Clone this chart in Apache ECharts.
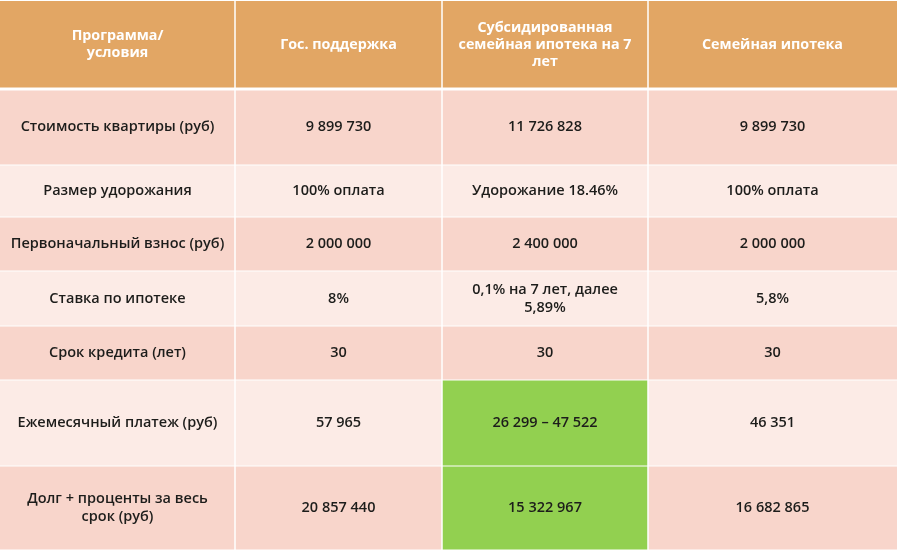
<!DOCTYPE html>
<html>
<head>
<meta charset="utf-8">
<script src="https://cdn.jsdelivr.net/npm/echarts@6/dist/echarts.min.js"></script>
<style>
    html, body { margin: 0; padding: 0; background: #fff; }
    #main { width: 897px; height: 550px; }
</style>
</head>
<body>
<div id="main"></div>
<script>
// заголовки колонок
var columns = ['Программа/\nусловия', 'Гос. поддержка', 'Субсидированная\nсемейная ипотека на 7\nлет', 'Семейная ипотека'];

// условия (первая колонка)
var conditions = ['Стоимость квартиры (руб)', 'Размер удорожания', 'Первоначальный взнос (руб)',
    'Ставка по ипотеке', 'Срок кредита (лет)', 'Ежемесячный платеж (руб)', 'Долг + проценты за весь\nсрок (руб)'];

var gosValues = ['9 899 730', '100% оплата', '2 000 000', '8%', '30', '57 965', '20 857 440'];
var subsidValues = ['11 726 828', 'Удорожание 18.46%', '2 400 000', '0,1% на 7 лет, далее\n5,89%', '30', '26 299 – 47 522', '15 322 967'];
var familyValues = ['9 899 730', '100% оплата', '2 000 000', '5,8%', '30', '46 351', '16 682 865'];

// лучшие значения (подсвечены зелёным) в колонке субсидированной ипотеки
var subsidBest = [false, false, false, false, false, true, true];

// разметка таблицы
var colEdges = [0, 235, 442, 648, 897];
var rowEdges = [0, 89, 165, 217, 271, 326, 380, 466, 550];

var colors = {
    header: '#E2A664',
    dark: '#F8D5CB',
    light: '#FCEBE6',
    best: '#92D050',
    text: '#1d1d1b'
};

var cells = [];
columns.forEach(function (name, c) {
    cells.push([c, 0, name, 'header']);
});
conditions.forEach(function (name, i) {
    var r = i + 1;
    var kind = (i % 2 === 0) ? 'dark' : 'light';
    cells.push([0, r, name, kind]);
    cells.push([1, r, gosValues[i], kind]);
    cells.push([2, r, subsidValues[i], subsidBest[i] ? 'best' : kind]);
    cells.push([3, r, familyValues[i], kind]);
});

var myChart = echarts.init(document.getElementById('main'));

function renderCell(params, api) {
    var c = api.value(0);
    var r = api.value(1);
    var item = cells[params.dataIndex];
    var p0 = api.coord([colEdges[c], rowEdges[r]]);
    var p1 = api.coord([colEdges[c + 1], rowEdges[r + 1]]);
    var isHeader = item[3] === 'header';
    var gapTop = r === 1 ? 1.5 : 0.5;
    var gapBottom = isHeader ? 1.5 : 0.5;
    var x = p0[0] + (c === 0 ? 0 : 0.75);
    var w = p1[0] - p0[0] - (c === 0 ? 0.75 : (c === 3 ? 0.75 : 1.5));
    var y = p0[1] + (r === 0 ? 1 : gapTop);
    var h = p1[1] - y - gapBottom;
    return {
        type: 'group',
        children: [{
            type: 'rect',
            shape: { x: x, y: y, width: w, height: h },
            style: { fill: colors[item[3]] }
        }, {
            type: 'text',
            x: (p0[0] + p1[0]) / 2,
            y: (p0[1] + p1[1]) / 2,
            style: {
                text: item[2],
                fill: isHeader ? '#ffffff' : colors.text,
                font: isHeader ? 'bold 14.3px "Open Sans", sans-serif' : '600 14.5px "Open Sans", sans-serif',
                lineHeight: isHeader ? 17 : 18,
                align: 'center',
                verticalAlign: 'middle'
            }
        }]
    };
}

var option = {
    animation: false,
    grid: { left: 0, right: 0, top: 0, bottom: 0 },
    xAxis: { type: 'value', min: 0, max: 897, show: false },
    yAxis: { type: 'value', min: 0, max: 550, inverse: true, show: false },
    series: [{
        type: 'custom',
        renderItem: renderCell,
        data: cells.map(function (cell) { return [cell[0], cell[1]]; })
    }]
};

myChart.setOption(option);
</script>
</body>
</html>
